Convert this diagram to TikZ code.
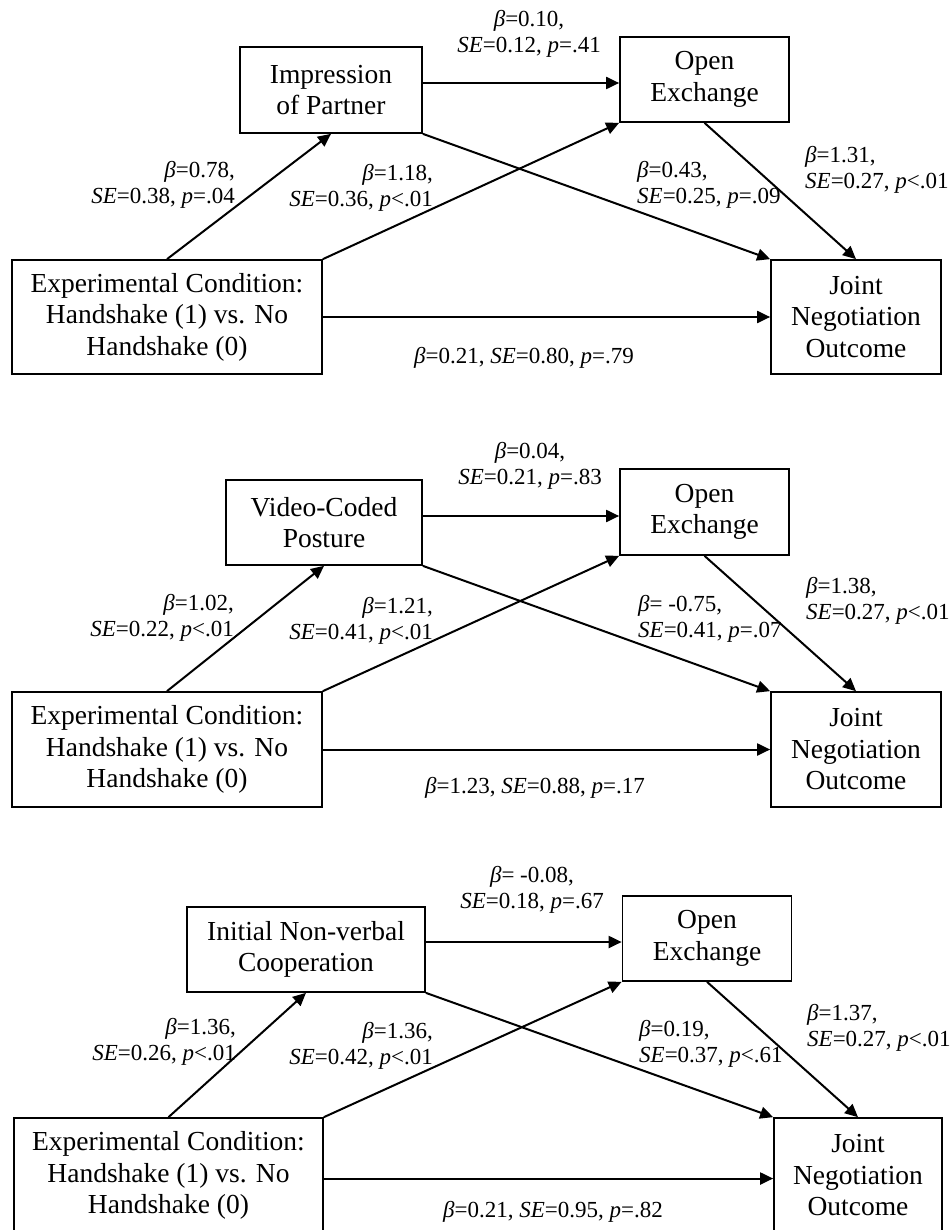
\documentclass[tikz,border=0pt]{standalone}
\usepackage{fontspec}
\setmainfont{Liberation Serif}
\usetikzlibrary{arrows.meta,calc}
\newcommand\myB{\textit{β}}
\newcommand\mySE{\textit{SE}}
\newcommand\myP{\textit{p}}
\begin{document}
\begin{tikzpicture}[x=1pt,y=-1pt,
 box/.style={draw,line width=1.7pt,align=center,inner sep=0pt,font=\fontsize{27.5}{31.5}\selectfont},
 lbl/.style={inner sep=0pt,font=\fontsize{23}{26}\selectfont},
 arr/.style={line width=2pt,-{Triangle[length=13pt,width=12pt]}}]
\useasboundingbox (0,0) rectangle (951,1230);
\fill[white] (0,0) rectangle (951,1230);
% ---------- Panel 1 ----------
\node[box,minimum width=182pt,minimum height=86pt] (m1) at (331,90) {Impression\\of Partner};
\node[box,minimum width=169pt,minimum height=85pt] (o1) at (704.5,79.5) {Open\\Exchange};
\node[box,minimum width=310pt,minimum height=114pt] (e1) at (167,317) {Experimental Condition:\\Handshake (1) vs. No\\Handshake (0)};
\node[box,minimum width=170pt,minimum height=114pt] (j1) at (856,317) {Joint\\Negotiation\\Outcome};
\draw[arr] ([yshift=7pt]m1.east) -- ([yshift=7pt]m1.east -| o1.west);
\draw[arr] (e1.north) -- (m1.south);
\draw[arr] (e1.north east) -- (o1.south west);
\draw[arr] (m1.south east) -- (j1.north west);
\draw[arr] (o1.south) -- (j1.north);
\draw[arr] (e1.east) -- (j1.west);
\node[lbl,align=center] (t1) at (529,33.5) {\myB=0.10,\\\mySE=0.12, \myP=.41};
\node[lbl,anchor=east,align=right] (a1) at (235,185) {\myB=0.78,\\\mySE=0.38, \myP=.04};
\node[lbl,anchor=east,align=right] (b1) at (433,187.5) {\myB=1.18,\\\mySE=0.36, \myP<.01};
\node[lbl,anchor=west,align=left] (c1) at (637,185) {\myB=0.43,\\\mySE=0.25, \myP=.09};
\node[lbl,anchor=west,align=left] (d1) at (805,170) {\myB=1.31,\\\mySE=0.27, \myP<.01};
\node[lbl] (f1) at (524,358) {\myB=0.21, \mySE=0.80, \myP=.79};
% ---------- Panel 2 ----------
\node[box,minimum width=196pt,minimum height=85pt] (m2) at (324,522.5) {Video-Coded\\Posture};
\node[box,minimum width=169pt,minimum height=86pt] (o2) at (704.5,512) {Open\\Exchange};
\node[box,minimum width=310pt,minimum height=115pt] (e2) at (167,749.5) {Experimental Condition:\\Handshake (1) vs. No\\Handshake (0)};
\node[box,minimum width=170pt,minimum height=115pt] (j2) at (856,749.5) {Joint\\Negotiation\\Outcome};
\draw[arr] ([yshift=6.5pt]m2.east) -- ([yshift=6.5pt]m2.east -| o2.west);
\draw[arr] (e2.north) -- (m2.south);
\draw[arr] (e2.north east) -- (o2.south west);
\draw[arr] (m2.south east) -- (j2.north west);
\draw[arr] (o2.south) -- (j2.north);
\draw[arr] (e2.east) -- (j2.west);
\node[lbl,align=center] (t2) at (530,465.5) {\myB=0.04,\\\mySE=0.21, \myP=.83};
\node[lbl,anchor=east,align=right] (a2) at (234,617.5) {\myB=1.02,\\\mySE=0.22, \myP<.01};
\node[lbl,anchor=east,align=right] (b2) at (433,621) {\myB=1.21,\\\mySE=0.41, \myP<.01};
\node[lbl,anchor=west,align=left] (c2) at (638,619) {\myB= -0.75,\\\mySE=0.41, \myP=.07};
\node[lbl,anchor=west,align=left] (d2) at (806,601) {\myB=1.38,\\\mySE=0.27, \myP<.01};
\node[lbl] (f2) at (535,788) {\myB=1.23, \mySE=0.88, \myP=.17};
% ---------- Panel 3 ----------
\node[box,minimum width=238pt,minimum height=85pt] (m3) at (306,949.5) {Initial Non-verbal\\Cooperation};
\node[box,minimum width=169pt,minimum height=85pt] (o3) at (707,938.5) {Open\\Exchange};
\node[box,minimum width=309pt,minimum height=115pt] (e3) at (168.5,1175.5) {Experimental Condition:\\Handshake (1) vs. No\\Handshake (0)};
\node[box,minimum width=168pt,minimum height=115pt] (j3) at (858,1175.5) {Joint\\Negotiation\\Outcome};
\draw[arr] ([yshift=7.5pt]m3.east) -- ([yshift=7.5pt]m3.east -| o3.west);
\draw[arr] (e3.north) -- (m3.south);
\draw[arr] (e3.north east) -- (o3.south west);
\draw[arr] (m3.south east) -- (j3.north west);
\draw[arr] (o3.south) -- (j3.north);
\draw[arr] ([yshift=-3pt]e3.east) -- ([yshift=-3pt]e3.east -| j3.west);
\node[lbl,align=center] (t3) at (532,890) {\myB= -0.08,\\\mySE=0.18, \myP=.67};
\node[lbl,anchor=east,align=right] (a3) at (236,1042) {\myB=1.36,\\\mySE=0.26, \myP<.01};
\node[lbl,anchor=east,align=right] (b3) at (433,1046) {\myB=1.36,\\\mySE=0.42, \myP<.01};
\node[lbl,anchor=west,align=left] (c3) at (639,1044) {\myB=0.19,\\\mySE=0.37, \myP<.61};
\node[lbl,anchor=west,align=left] (d3) at (807,1028) {\myB=1.37,\\\mySE=0.27, \myP<.01};
\node[lbl] (f3) at (553,1212) {\myB=0.21, \mySE=0.95, \myP=.82};
\end{tikzpicture}
\end{document}
